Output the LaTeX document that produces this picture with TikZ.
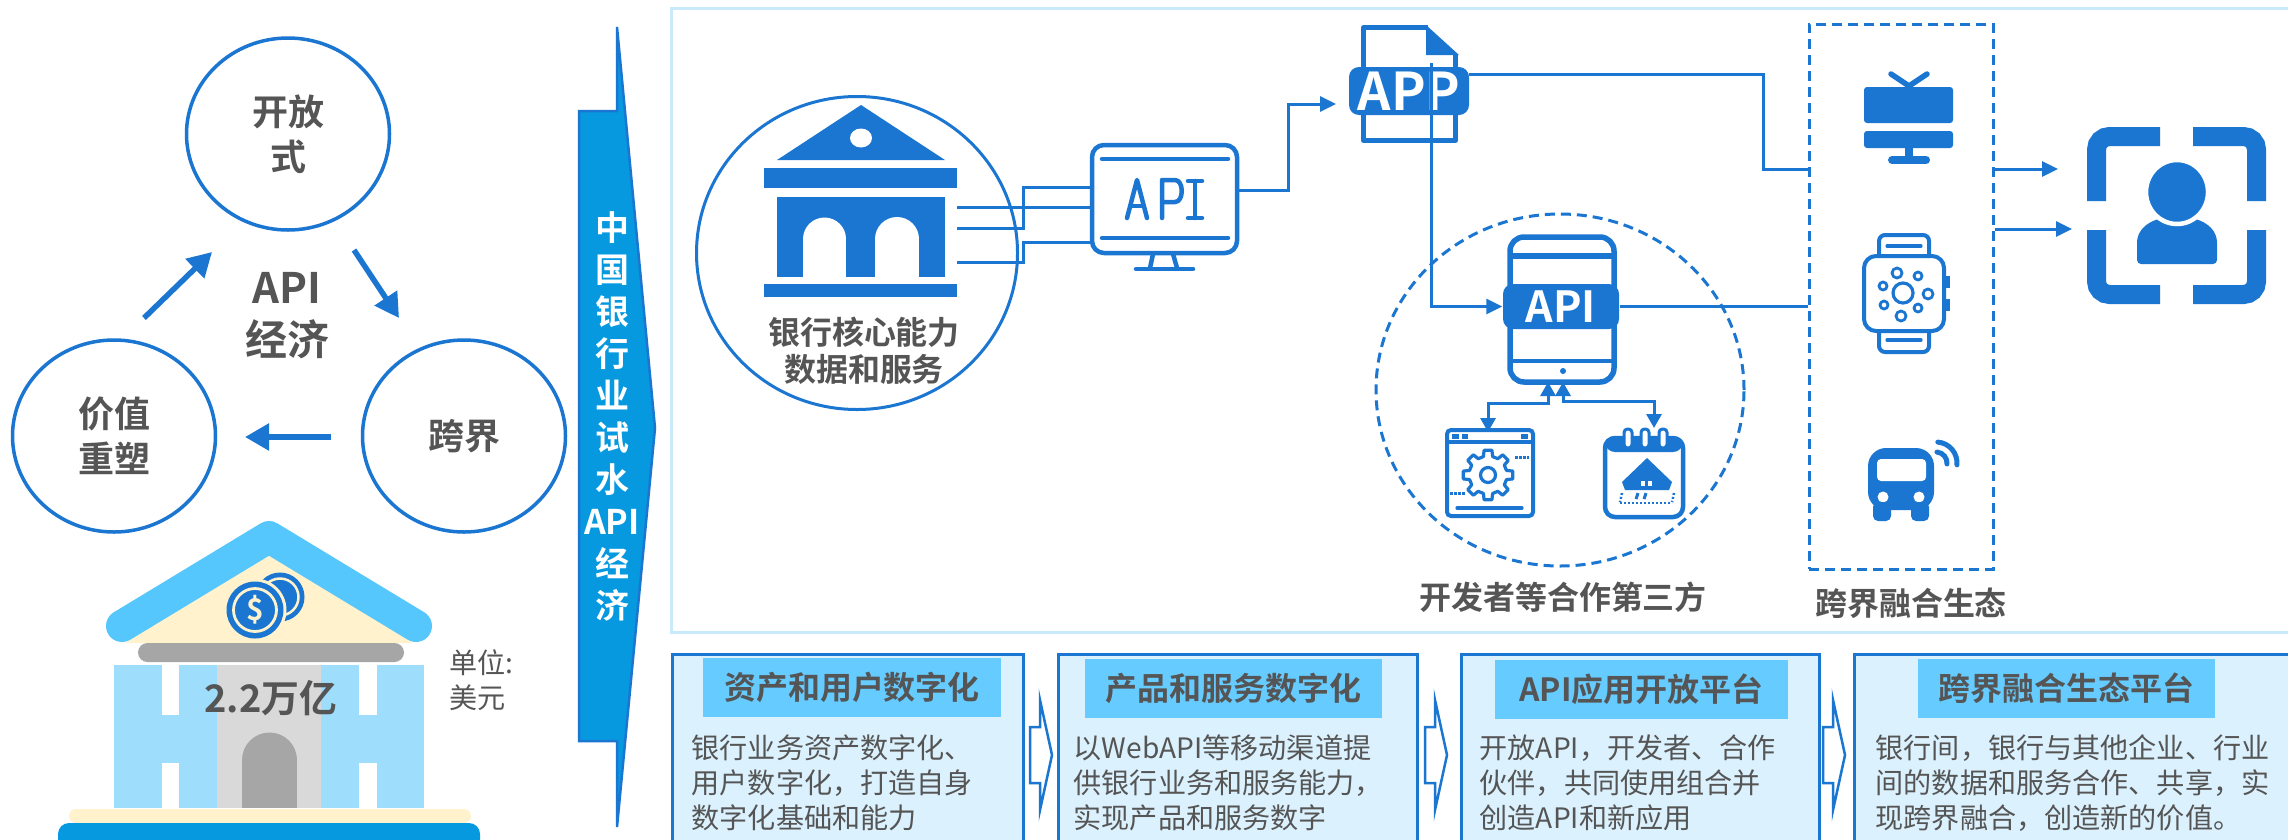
\documentclass[tikz,border=0pt]{standalone}
\usepackage{fontspec}
\setmainfont{Noto Sans CJK SC}[BoldFont={Noto Sans CJK SC Bold}]
\usetikzlibrary{arrows.meta,shapes.geometric,calc}
\definecolor{ablue}{RGB}{27,118,210}
\definecolor{bannerblue}{RGB}{6,153,224}
\definecolor{roofblue}{RGB}{85,199,253}
\definecolor{colblue}{RGB}{158,221,252}
\definecolor{cream}{RGB}{255,242,204}
\definecolor{dgray}{RGB}{166,166,166}
\definecolor{lgray}{RGB}{217,217,217}
\definecolor{txt}{RGB}{85,85,85}
\definecolor{boxfill}{RGB}{219,241,253}
\definecolor{bandfill}{RGB}{102,203,255}
\definecolor{framec}{RGB}{201,234,252}
\newcommand\fsz[2]{\fontsize{#1}{#2}\selectfont}
\begin{document}
\begin{tikzpicture}[x=0.1mm,y=-0.1mm,
  ring/.style={ellipse, draw=ablue, line width=0.35mm, inner sep=0pt,
    minimum width=20.3mm, minimum height=19.2mm, align=center, text=txt,
    font=\bfseries\fsz{10.24}{12.8}},
  bigarrow/.style={draw=ablue, line width=0.55mm, -{Triangle[length=2.4mm,width=2.6mm]}},
  lbl/.style={text=txt, font=\bfseries\fsz{9.1}{10.5}, align=center, inner sep=0pt},
  bodytxt/.style={text=txt, font=\fsz{8}{9.96}, align=left, anchor=north west, inner sep=0pt},
  boxst/.style={fill=boxfill, draw=ablue, line width=0.25mm, anchor=north west,
    inner sep=0pt, minimum height=22mm},
  band/.style={fill=bandfill, inner sep=0pt, minimum height=5.9mm, text=txt,
    font=\bfseries\fsz{9.1}{10}},
  conn/.style={draw=ablue, line width=0.3mm},
  arrowtip/.style={-{Triangle[length=1.6mm,width=1.5mm]}},
  dbl/.style={{Triangle[length=1.4mm,width=1.5mm]}-{Triangle[length=1.4mm,width=1.5mm]}},
  icon/.style={draw=ablue, line width=0.45mm, line cap=round, line join=round},
  thin/.style={draw=ablue, line width=0.32mm, line cap=round, line join=round},
  chev/.style={fill=white, draw=ablue, line width=0.25mm},
  pill/.style={fill=ablue, text=white, inner sep=0pt, rounded corners=1mm},
]
\useasboundingbox (0,0) rectangle (2288,839);
\fill[white] (0,0) rectangle (2288,839);

% ---------- API economy cycle ----------
\node[ring] (open) at (288,134) {开放\\式};
\node[ring] (value) at (114,436) {价值\\重塑};
\node[ring] (cross) at (464,436) {跨界};
\node[lbl, font=\bfseries\fsz{11.95}{14.8}] (econ) at (287,316) {API\\经济};
\coordinate (a1s) at (144,318); \coordinate (a1e) at (212,252);
\coordinate (a2s) at (354,250); \coordinate (a2e) at (399,318);
\coordinate (a3s) at (331,437); \coordinate (a3e) at (245,437);
\draw[bigarrow] (a1s) -- (a1e);
\draw[bigarrow] (a2s) -- (a2e);
\draw[bigarrow] (a3s) -- (a3e);

% ---------- bank building ----------
\fill[cream] (269,550) -- (125,643) -- (413,643) -- cycle;
\draw[roofblue, line width=3.2mm, line cap=round, line join=round]
  (122,626) -- (269,537) -- (416,626);
% coins
\fill[ablue] (280,597) circle[radius=2.45mm];
\draw[cream, line width=0.25mm] (280,597) circle[radius=1.85mm];
\fill[cream] (255,610) circle[radius=3.15mm];
\fill[ablue] (255,610) circle[radius=2.85mm];
\draw[cream, line width=0.28mm] (255,610) circle[radius=2.15mm];
\node[text=cream, font=\bfseries\fsz{8.5}{9}, inner sep=0pt] (dollar) at (255,610) {\$};
% entablature, walls, door
\fill[dgray, rounded corners=0.95mm] (138,643) rectangle (404,662);
\fill[colblue] (114,665) rectangle (424,808);
\fill[white] (162,665) rectangle (179,715);
\fill[white] (162,763) rectangle (179,808);
\fill[white] (359,665) rectangle (377,715);
\fill[white] (359,763) rectangle (377,808);
\fill[lgray] (217,665) rectangle (321,808);
\fill[dgray] (242,760) rectangle (297,808);
\fill[dgray] (269.5,760) circle[radius=2.75mm];
\node[text=txt, font=\bfseries\fsz{10.8}{12}, inner sep=0pt] (total) at (271,698) {2.2万亿};
\fill[cream, rounded corners=0.7mm] (69,809) rectangle (471,823);
\fill[bannerblue, rounded corners=1.1mm] (58,823) rectangle (480,856);
\node[text=txt, font=\fsz{8}{10}, align=left, anchor=west, inner sep=0pt] (unit) at (449,680) {单位:\\美元};

% ---------- vertical banner ----------
\filldraw[fill=bannerblue, draw=ablue, line width=0.25mm]
  (579,111) -- (617,111) -- (617,27) -- (655,428) -- (617,827) -- (617,741) -- (579,741) -- cycle;
\node[text=white, font=\bfseries\fsz{9.67}{11.95}, align=center, inner sep=0pt] (bannertxt)
  at (612,416) {中\\国\\银\\行\\业\\试\\水\\API\\经\\济};

% ---------- upper frame ----------
\draw[framec, line width=0.3mm] (671,8) rectangle (2310,632);

% bank core circle and icon
\node[ellipse, draw=ablue, line width=0.3mm, minimum width=32.1mm, minimum height=31.3mm,
  inner sep=0pt] (core) at (857,253) {};
\fill[ablue] (861,105) -- (945,160) -- (777,160) -- cycle;
\fill[white] (861,138) ellipse[x radius=11, y radius=9.5];
\fill[ablue] (764,168) rectangle (957,188);
\fill[ablue] (777,197) rectangle (945,277);
\fill[white] (803,239) rectangle (846,278);
\fill[white] (824.5,239) circle[radius=2.15mm];
\fill[white] (875,239) rectangle (919,278);
\fill[white] (897,239) circle[radius=2.2mm];
\fill[ablue] (764,284) rectangle (957,297);
\node[lbl] (coretxt) at (864,351) {银行核心能力\\数据和服务};

% API monitor
\node[draw=ablue, line width=0.45mm, rounded corners=1.2mm, minimum width=14.5mm,
  minimum height=10.8mm, inner sep=0pt] (mon) at (1164.5,199) {};
\draw[icon] (1102,159) -- (1228,159);
\draw[icon] (1102,238) -- (1228,238);
\draw[icon] (1153,254) -- (1150,268);
\draw[icon] (1173,254) -- (1177,268);
\draw[icon] (1136,269) -- (1193,269);
\draw[icon] (1127,218) -- (1137,180) -- (1147,218);
\draw[icon] (1131,206) -- (1143,206);
\draw[icon] (1162,218) -- (1162,180) -- (1175,180) .. controls (1184,180) and (1184,202) .. (1175,202) -- (1162,202);
\draw[icon] (1195,181) -- (1195,218);
\draw[icon] (1188,181) -- (1202,181);
\draw[icon] (1188,218) -- (1202,218);

% bank -> monitor links
\coordinate (c1) at (957,207); \coordinate (m1) at (1090,207);
\coordinate (c2) at (957,228); \coordinate (m2) at (1090,187);
\coordinate (c3) at (957,262); \coordinate (m3) at (1090,242);
\draw[conn] (c1) -- (m1);
\draw[conn] (c2) -- (1023,228) |- (m2);
\draw[conn] (c3) -- (1023,262) |- (m3);

% APP file icon
\draw[ablue, line width=0.5mm, line join=round] (1428,27.5) -- (1363.5,27.5) -- (1363.5,140.5) -- (1455.5,140.5) -- (1455.5,55);
\fill[ablue] (1426,25) -- (1459,55) -- (1426,55) -- cycle;
\node[pill, minimum width=12mm, minimum height=4.8mm, font=\bfseries\fsz{14.8}{15}] (app) at (1409,91) {APP};

% developers circle
\node[ellipse, draw=ablue, dashed, dash pattern=on 1mm off 0.6mm, line width=0.3mm,
  minimum width=36.8mm, minimum height=35.2mm, inner sep=0pt] (dev) at (1560,390) {};
\node[lbl] (devtxt) at (1563,597) {开发者等合作第三方};

% phone with API
\node[draw=ablue, line width=0.55mm, rounded corners=1.4mm, minimum width=10.4mm,
  minimum height=14.5mm, inner sep=0pt] (phone) at (1562,309.5) {};
\draw[ablue, line width=0.55mm] (1510,256) -- (1614,256);
\draw[ablue, line width=0.45mm] (1510,361) -- (1614,361);
\fill[ablue] (1563,371) circle[radius=0.3mm];
\node[pill, minimum width=11.6mm, minimum height=4.5mm, font=\bfseries\fsz{12.2}{13}] (api) at (1561,306.5) {API};

% gear window
\node[draw=ablue, line width=0.4mm, rounded corners=0.4mm, minimum width=8.6mm,
  minimum height=8.6mm, inner sep=0pt] (gearwin) at (1490,473) {};
\draw[thin] (1447,442) -- (1533,442);
\fill[ablue] (1452,434) rectangle (1459,439);
\fill[ablue] (1462,434) rectangle (1468,439);
\fill[ablue] (1521,434) rectangle (1528,439);
\begin{scope}[shift={(1488,475)}]
  \draw[thin, fill=white] (-14:1.9mm) \foreach \i in {0,...,7}{
      -- ({\i*45-14}:1.9mm) -- ({\i*45-9}:2.5mm) -- ({\i*45+9}:2.5mm) -- ({\i*45+14}:1.9mm)} -- cycle;
  \draw[thin] (0,0) circle[radius=0.75mm];
\end{scope}
\draw[ablue, line width=0.3mm, dash pattern=on 0.25mm off 0.15mm] (1515,457) -- (1529,457);
\draw[ablue, line width=0.3mm, dash pattern=on 0.25mm off 0.15mm] (1450,493) -- (1465,493);
\draw[thin] (1457,508) -- (1522,508);

% calendar
\node[draw=ablue, line width=0.45mm, rounded corners=1mm, minimum width=7.8mm,
  minimum height=7.9mm, inner sep=0pt] (cal) at (1644,477.5) {};
\fill[ablue, rounded corners=1mm] (1605,438) rectangle (1683,452);
\foreach \rx in {1628,1645,1663}
  \draw[ablue, fill=white, line width=0.3mm, rounded corners=0.35mm] (\rx-4,429) rectangle (\rx+4,448);
\fill[ablue] (1647,458) -- (1672,482) -- (1669,490) -- (1625,490) -- (1622,482) -- cycle;
\fill[white] (1641,481) rectangle (1645,486);
\fill[white] (1648,481) rectangle (1652,486);
\draw[ablue, line width=0.25mm, dash pattern=on 0.2mm off 0.2mm] (1620,503) -- (1672,503);
\draw[ablue, line width=0.3mm] (1638,493) -- (1636,499);
\draw[ablue, line width=0.3mm] (1646,493) -- (1644,499);
\draw[ablue, line width=0.25mm, dash pattern=on 0.2mm off 0.2mm] (1622,493) -- (1620,502);
\draw[ablue, line width=0.25mm, dash pattern=on 0.2mm off 0.2mm] (1674,493) -- (1672,502);

% ecosystem box
\node[draw=ablue, dashed, dash pattern=on 1mm off 0.6mm, line width=0.3mm,
  minimum width=18.4mm, minimum height=54.5mm, inner sep=0pt] (eco) at (1901,296.5) {};
\node[lbl] (ecotxt) at (1911,603) {跨界融合生态};

% TV
\fill[ablue, rounded corners=0.3mm] (1864,87) rectangle (1953,123);
\fill[ablue, rounded corners=0.3mm] (1864,131) rectangle (1953,148);
\fill[ablue] (1905,147) rectangle (1913,160);
\draw[ablue, line width=0.8mm, line cap=round] (1892,160) -- (1926,160);
\draw[ablue, line width=0.55mm, line cap=round, line join=round] (1891,74) -- (1909,86) -- (1927,74);

% watch
\draw[thin, line width=0.4mm, rounded corners=1.2mm] (1864,256) rectangle (1944,331);
\draw[thin, line width=0.4mm, rounded corners=0.6mm] (1879,256) -- (1879,235) -- (1929,235) -- (1929,256);
\draw[thin, line width=0.4mm, rounded corners=0.6mm] (1879,331) -- (1879,352) -- (1929,352) -- (1929,331);
\draw[thin] (1887,246) -- (1921,246);
\draw[thin] (1887,340) -- (1921,340);
\fill[ablue] (1946,276) rectangle (1950,288);
\fill[ablue] (1946,299) rectangle (1950,311);
\draw[thin] (1903,293) circle[radius=1mm];
\foreach \cx/\cy/\r in {1897/273/0.5, 1918/276/0.4, 1883/286/0.4, 1928/294/0.5,
                        1884/305/0.4, 1918/308/0.4, 1901/316/0.5}
  \draw[thin, line width=0.28mm] (\cx,\cy) circle[radius=\r mm];

% bus
\fill[ablue, rounded corners=1.8mm] (1868,448) rectangle (1934,510);
\fill[white, rounded corners=0.4mm] (1877,459) rectangle (1926,481);
\fill[white] (1883,497) circle[radius=0.55mm];
\fill[white] (1919,497) circle[radius=0.55mm];
\fill[ablue, rounded corners=0.5mm] (1873,502) rectangle (1891,521);
\fill[ablue, rounded corners=0.5mm] (1911,502) rectangle (1929,521);
\draw[ablue, line width=0.5mm, line cap=round] (1936,463) ++(85:1.1mm) arc[start angle=85, end angle=-5, radius=1.1mm];
\draw[ablue, line width=0.5mm, line cap=round] (1936,463) ++(85:2.1mm) arc[start angle=85, end angle=-5, radius=2.1mm];

% user frame
\begin{scope}[ablue, line width=1.9mm, rounded corners=1.3mm]
  \draw (2096.5,201) -- (2096.5,136.5) -- (2160,136.5);
  \draw (2193,136.5) -- (2256.5,136.5) -- (2256.5,201);
  \draw (2256.5,230) -- (2256.5,294.5) -- (2193,294.5);
  \draw (2160,294.5) -- (2096.5,294.5) -- (2096.5,230);
\end{scope}
\fill[ablue, rounded corners=0.4mm] (2137,264) -- (2137,247) .. controls (2137,226) and (2155,217) .. (2177,217)
  .. controls (2199,217) and (2217,226) .. (2217,247) -- (2217,264) -- cycle;
\filldraw[fill=ablue, draw=white, line width=0.45mm] (2177,192) ellipse[x radius=31, y radius=32];

% ---------- connectors in the upper frame ----------
\coordinate (monout) at (1237,190);
\coordinate (appin) at (1336,104);
\coordinate (appout) at (1469,74);
\coordinate (appdown) at (1431,63);
\coordinate (tvin) at (1809,169);
\coordinate (u1) at (2058,169);
\coordinate (u2) at (2072,229);
\draw[conn, arrowtip] (monout) -- (1288,190) |- (appin);
\draw[conn] (appout) -- (1763,74) |- (tvin);
\draw[conn, arrowtip] (appdown) |- (api.west);
\draw[conn] (api.east) -- (api.east -| eco.west);
\draw[conn, arrowtip] (eco.east |- u1) -- (u1);
\draw[conn, arrowtip] (eco.east |- u2) -- (u2);
\coordinate (ph1) at (1548,382);
\coordinate (ph2) at (1563,382);
\coordinate (gt) at (1488,432);
\coordinate (ct) at (1654,428);
\draw[conn, dbl] (ph1) -- (1548,403) -| (gt);
\draw[conn, dbl] (ph2) -- (1563,401) -| (ct);

% ---------- stage boxes ----------
\node[boxst, minimum width=35.1mm] (b1) at (671,653) {};
\node[boxst, minimum width=35.9mm] (b2) at (1057,653) {};
\node[boxst, minimum width=35.8mm] (b3) at (1460,653) {};
\node[boxst, minimum width=46mm] (b4) at (1853,653) {};
\foreach \x in {1030,1425,1823}
  \draw[chev] (\x,727) -- ++(10,0) -- ++(0,-27) -- ++(12,55) -- ++(-12,55) -- ++(0,-27) -- ++(-10,0) -- cycle;
\node[band, minimum width=29.8mm] (t1) at (852,687.5) {资产和用户数字化};
\node[band, minimum width=29.7mm] (t2) at (1233.5,688) {产品和服务数字化};
\node[band, minimum width=29.3mm] (t3) at (1641.5,689) {API应用开放平台};
\node[band, minimum width=29.7mm] (t4) at (2066.5,688) {跨界融合生态平台};
\node[bodytxt] (d1) at (691,734) {银行业务资产数字化、\\用户数字化，打造自身\\数字化基础和能力};
\node[bodytxt] (d2) at (1073,734) {以WebAPI等移动渠道提\\供银行业务和服务能力，\\实现产品和服务数字};
\node[bodytxt] (d3) at (1479,734) {开放API，开发者、合作\\伙伴，共同使用组合并\\创造API和新应用};
\node[bodytxt] (d4) at (1875,734) {银行间，银行与其他企业、行业\\间的数据和服务合作、共享，实\\现跨界融合，创造新的价值。};
\end{tikzpicture}
\end{document}
